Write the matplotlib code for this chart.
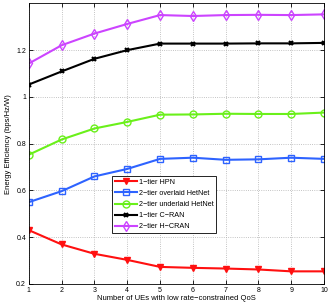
import matplotlib
matplotlib.use("Agg")
import matplotlib.pyplot as plt

num_ues = [1, 2, 3, 4, 5, 6, 7, 8, 9, 10]

ee_hpn = [0.430, 0.369, 0.329, 0.303, 0.273, 0.269, 0.266, 0.262, 0.254, 0.254]
ee_overlaid = [0.550, 0.597, 0.660, 0.692, 0.735, 0.740, 0.731, 0.733, 0.740, 0.735]
ee_underlaid = [0.753, 0.818, 0.865, 0.893, 0.924, 0.925, 0.928, 0.927, 0.927, 0.933]
ee_cran = [1.053, 1.109, 1.163, 1.200, 1.228, 1.228, 1.228, 1.229, 1.229, 1.231]
ee_hcran = [1.143, 1.221, 1.271, 1.312, 1.350, 1.346, 1.350, 1.351, 1.350, 1.353]

labels = ["1\u2212tier HPN", "2\u2212tier overlaid HetNet", "2\u2212tier underlaid HetNet",
          "1\u2212tier C\u2212RAN", "2\u2212tier H\u2212CRAN"]

plt.rcParams["font.family"] = ["Liberation Sans", "DejaVu Sans"]

fig = plt.figure(figsize=(3.32, 3.07), dpi=100)
ax = fig.add_axes([0.087, 0.075, 0.889, 0.914])

ax.plot(num_ues, ee_hpn, color="#ff1010", marker="v", ms=5, lw=1.5, label=labels[0])
ax.plot(num_ues, ee_overlaid, color="#2e63ff", marker="s", ms=4.5, mfc="none", mew=1.0, lw=1.5, label=labels[1])
ax.plot(num_ues, ee_underlaid, color="#6af01a", marker="o", ms=5, mfc="none", mew=1.0, lw=1.5, label=labels[2])
ax.plot(num_ues, ee_cran, color="black", marker="x", ms=3.5, mew=1.5, lw=1.5, label=labels[3])
ax.plot(num_ues, ee_hcran, color="#cc44ff", marker="d", ms=5.5, mfc="none", mew=1.0, lw=1.5, label=labels[4])

ax.set_xlim(1, 10)
ax.set_ylim(0.2, 1.4)
ax.set_xticks(num_ues)
ax.set_yticks([0.2, 0.4, 0.6, 0.8, 1.0, 1.2])
ax.set_yticklabels(["0.2", "0.4", "0.6", "0.8", "1", "1.2"])
ax.tick_params(direction="in", top=True, right=True, labelsize=5, length=3, width=0.6, pad=2)
ax.grid(True, linestyle=":", color="#b0b0b0", linewidth=0.6)
for s in ax.spines.values():
    s.set_linewidth(0.6)

ax.set_xlabel("Number of UEs with low rate\u2212constrained QoS", fontsize=5.5, labelpad=1)
ax.set_ylabel("Energy Efficiency (bps/Hz/W)", fontsize=5.5, labelpad=3)

leg = ax.legend(loc="lower left", bbox_to_anchor=(0.283, 0.183), fontsize=5.2, fancybox=False,
                framealpha=1, edgecolor="black", handlelength=3, borderpad=0.35, labelspacing=0.55,
                handletextpad=0.3, numpoints=1, borderaxespad=0)
leg.get_frame().set_linewidth(0.6)

fig.savefig("out.png", dpi=100)
